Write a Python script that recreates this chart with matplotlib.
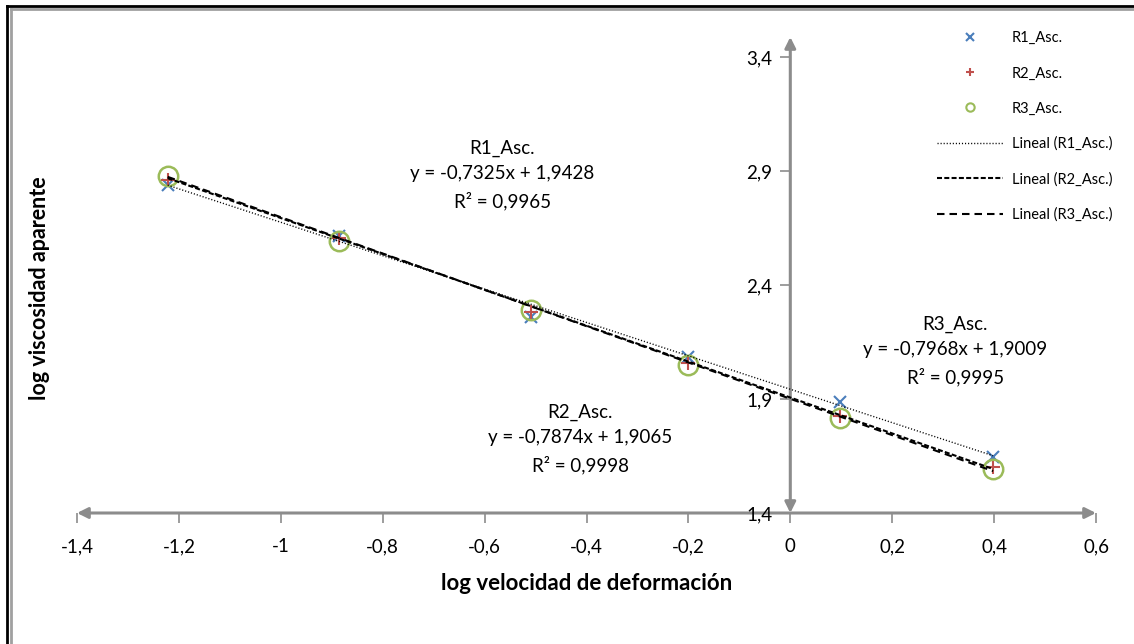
import matplotlib.pyplot as plt
from matplotlib.lines import Line2D

plt.rcParams['font.family'] = ['Lato', 'DejaVu Sans']

# log velocidad de deformación
log_rate = [-1.222, -0.886, -0.509, -0.201, 0.097, 0.398]
# log viscosidad aparente
r1_asc = [2.84, 2.615, 2.26, 2.085, 1.887, 1.646]
r2_asc = [2.86, 2.607, 2.28, 2.058, 1.826, 1.600]
r3_asc = [2.88, 2.594, 2.29, 2.050, 1.818, 1.593]

series_names = ['R1_Asc.', 'R2_Asc.', 'R3_Asc.']
slopes = [-0.7325, -0.7874, -0.7968]
intercepts = [1.9428, 1.9065, 1.9009]
r2_values = [0.9965, 0.9998, 0.9995]

x_ticks = [-1.4, -1.2, -1.0, -0.8, -0.6, -0.4, -0.2, 0.0, 0.2, 0.4, 0.6]
y_ticks = [1.4, 1.9, 2.4, 2.9, 3.4]

grey = '#8c8c8c'
blue = '#4a7ebb'
red = '#c0504d'
green = '#9bbb59'


def comma(v):
    s = f'{v:g}'
    return s.replace('.', ',')


fig = plt.figure(figsize=(11.34, 6.44), dpi=100)
ax = fig.add_axes([77 / 1134, 1 - 513 / 644, (1096 - 77) / 1134, (513 - 37) / 644])
ax.set_xlim(-1.4, 0.6)
ax.set_ylim(1.4, 3.488)

# points
ax.plot(log_rate, r1_asc, ls='none', marker='x', ms=9, mew=1.5, color=blue, zorder=3)
ax.plot(log_rate, r2_asc, ls='none', marker='+', ms=10, mew=1.5, color=red, zorder=3)
ax.plot(log_rate, r3_asc, ls='none', marker='o', ms=14, mew=1.8, mfc='none', color=green, zorder=3)

# trendlines
styles = [(0, (0.8, 1.4)), (0, (2.4, 1.1)), (0, (3.6, 2.4))]
widths = [1.0, 1.5, 1.5]
xs = [min(log_rate), max(log_rate)]
for m, b, st, lw in zip(slopes, intercepts, styles, widths):
    ax.plot(xs, [m * x + b for x in xs], color='black', ls=st, lw=lw, zorder=4)

# axes with arrows, crossing at (0, 1.4)
for s in ax.spines.values():
    s.set_visible(False)
ax.spines['left'].set_position(('data', 0))
arrow = dict(arrowstyle='<|-|>', color=grey, lw=2.2, mutation_scale=16, shrinkA=0, shrinkB=0)
ax.annotate('', xy=(0.6, 1.4), xytext=(-1.4, 1.4), arrowprops=arrow, zorder=1)
ax.annotate('', xy=(0, 3.488), xytext=(0, 1.4), arrowprops=arrow, zorder=1)

ax.set_xticks(x_ticks)
ax.set_xticklabels([comma(round(v, 1)) for v in x_ticks])
ax.set_yticks(y_ticks)
ax.set_yticklabels([comma(v) for v in y_ticks])
ax.tick_params(axis='both', direction='out', length=7, width=1.2, color=grey,
               labelsize=13.5, labelcolor='black')
ax.tick_params(axis='x', pad=11)
ax.tick_params(axis='y', pad=6)

ax.set_xlabel('log velocidad de deformación', fontsize=16, fontweight='bold', labelpad=13)
fig.text(40 / 1134, 1 - 288 / 644, 'log viscosidad aparente', rotation=90, fontsize=15.5,
         fontweight='bold', ha='center', va='center')

# equations
label_pos = [(-0.565, 2.882), (-0.412, 1.725), (0.324, 2.11)]
for name, m, b, r2, (px, py) in zip(series_names, slopes, intercepts, r2_values, label_pos):
    txt = f'{name}\ny = {comma(m)}x + {comma(b)}\nR² = {comma(r2)}'
    ax.text(px, py, txt, ha='center', va='center', fontsize=13.5, linespacing=1.6, zorder=5)

# legend
handles = [
    Line2D([], [], ls='none', marker='x', ms=6, mew=1.5, color=blue),
    Line2D([], [], ls='none', marker='+', ms=6, mew=1.5, color=red),
    Line2D([], [], ls='none', marker='o', ms=6, mew=1.5, mfc='none', color=green),
    Line2D([], [], color='black', ls=styles[0], lw=1.0),
    Line2D([], [], color='black', ls=styles[1], lw=1.5),
    Line2D([], [], color='black', ls=styles[2], lw=1.5),
]
labels = series_names + [f'Lineal ({n})' for n in series_names]
fig.legend(handles, labels, loc='upper left', bbox_to_anchor=(930 / 1134, 1 - 24 / 644),
           frameon=False, fontsize=10.5, handlelength=4.5, handletextpad=0.6,
           labelspacing=1.45, borderpad=0)

# frame
fig.add_artist(Line2D([7 / 1134, 7 / 1134], [0, 1 - 6 / 644], color='black', lw=2))
fig.add_artist(Line2D([7 / 1134, 1], [1 - 6 / 644, 1 - 6 / 644], color='black', lw=2))
fig.add_artist(Line2D([11 / 1134, 11 / 1134], [0, 1 - 9 / 644], color='#a0a0a0', lw=2))
fig.add_artist(Line2D([11 / 1134, 1], [1 - 9 / 644, 1 - 9 / 644], color='#a0a0a0', lw=2))

fig.savefig('out.png', dpi=100)
